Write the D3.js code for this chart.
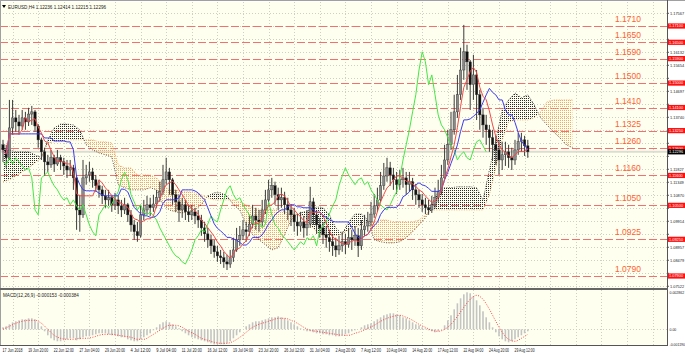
<!DOCTYPE html>
<html>
<head>
<meta charset="utf-8">
<script src="https://cdn.jsdelivr.net/npm/d3@7"></script>
<style>
  body { margin: 0; background: #fff; }
  svg { display: block; }
  text { font-family: Arial, "Liberation Sans", sans-serif; }
</style>
</head>
<body>
<div id="chart"></div>
<script>
// EURUSD H4, each entry = 2 H4 bars
var openP = [1.1273,1.1254,1.1225,1.1335,1.1372,1.1357,1.1342,1.1372,1.1357,1.1386,
1.1394,1.1342,1.1291,1.1247,1.1210,1.1199,1.1225,1.1202,1.1225,1.1210,
1.1195,1.1180,1.1188,1.1151,1.1033,1.1015,1.1151,1.1162,1.1173,1.1144,
1.1122,1.1107,1.1085,1.1070,1.1078,1.1052,1.1070,1.1048,1.1033,1.1052,
1.1015,1.0978,1.0953,1.0938,1.1015,1.1033,1.1052,1.1041,1.1055,1.1078,
1.1100,1.1144,1.1173,1.1144,1.1089,1.1063,1.1033,1.1052,1.1026,1.1015,
1.1026,1.1011,1.0996,1.0967,1.0945,1.0923,1.0901,1.0879,1.0864,1.0857,
1.0842,1.0834,1.0857,1.0886,1.0923,1.0938,1.0960,1.0953,1.0981,1.1011,
1.0996,1.0989,1.1033,1.1070,1.1107,1.1122,1.1089,1.1070,1.1078,1.1052,
1.1033,1.1015,1.0989,1.0974,1.0989,1.0967,1.0981,1.1063,1.1015,1.0978,
1.0967,1.0942,1.0931,1.0916,1.0901,1.0886,1.0901,1.0916,1.0905,1.0931,
1.0923,1.0938,1.0901,1.0960,1.0974,1.0989,1.1018,1.1048,1.1070,1.1122,
1.1158,1.1188,1.1162,1.1144,1.1126,1.1144,1.1151,1.1126,1.1137,1.1107,
1.1089,1.1070,1.1052,1.1041,1.1033,1.1052,1.1078,1.1100,1.1151,1.1217,
1.1273,1.1328,1.1394,1.1457,1.1548,1.1615,1.1578,1.1494,1.1530,1.1457,
1.1383,1.1346,1.1328,1.1299,1.1273,1.1254,1.1217,1.1236,1.1247,1.1225,
1.1217,1.1254,1.1284,1.1291,1.1269];
var highP = [1.1291,1.1273,1.1438,1.1438,1.1401,1.1383,1.1401,1.1394,1.1409,1.1416,
1.1401,1.1349,1.1299,1.1262,1.1236,1.1254,1.1236,1.1254,1.1236,1.1225,
1.1217,1.1217,1.1199,1.1162,1.1089,1.1217,1.1199,1.1210,1.1188,1.1162,
1.1144,1.1122,1.1107,1.1107,1.1089,1.1096,1.1085,1.1070,1.1078,1.1059,
1.1033,1.0996,1.0989,1.1052,1.1070,1.1085,1.1078,1.1089,1.1107,1.1137,
1.1199,1.1225,1.1188,1.1151,1.1107,1.1089,1.1078,1.1070,1.1052,1.1052,
1.1041,1.1033,1.1015,1.0989,1.0967,1.0942,1.0923,1.0901,1.0886,1.0879,
1.0868,1.0886,1.0931,1.0967,1.0974,1.0996,1.0989,1.1015,1.1052,1.1041,
1.1033,1.1070,1.1107,1.1144,1.1151,1.1137,1.1115,1.1115,1.1100,1.1078,
1.1055,1.1041,1.1018,1.1026,1.1011,1.1033,1.1118,1.1078,1.1033,1.1004,
1.0989,1.0974,1.0960,1.0945,1.0931,1.0938,1.0953,1.0945,1.0967,1.0960,
1.0974,1.0967,1.0996,1.1015,1.1026,1.1063,1.1092,1.1115,1.1173,1.1206,
1.1225,1.1210,1.1188,1.1173,1.1180,1.1188,1.1173,1.1173,1.1151,1.1129,
1.1107,1.1092,1.1078,1.1070,1.1085,1.1115,1.1144,1.1199,1.1273,1.1328,
1.1394,1.1457,1.1530,1.1630,1.1714,1.1641,1.1585,1.1604,1.1548,1.1475,
1.1409,1.1383,1.1346,1.1328,1.1306,1.1291,1.1284,1.1284,1.1273,1.1262,
1.1291,1.1317,1.1317,1.1306,1.1291];
var lowP = [1.1210,1.1188,1.1217,1.1310,1.1321,1.1310,1.1328,1.1328,1.1342,1.1346,
1.1321,1.1262,1.1217,1.1158,1.1173,1.1188,1.1173,1.1195,1.1180,1.1162,
1.1151,1.1158,1.1107,1.0960,1.0953,1.1004,1.1126,1.1137,1.1115,1.1100,
1.1078,1.1055,1.1041,1.1048,1.1026,1.1033,1.1018,1.1007,1.1018,1.0989,
1.0953,1.0923,1.0916,1.0931,1.0996,1.1018,1.1011,1.1026,1.1041,1.1063,
1.1089,1.1126,1.1089,1.1052,1.1026,1.0989,1.1004,1.0996,1.0989,1.0996,
1.0981,1.0967,1.0938,1.0916,1.0894,1.0871,1.0857,1.0842,1.0834,1.0820,
1.0812,1.0820,1.0842,1.0879,1.0901,1.0923,1.0916,1.0938,1.0967,1.0960,
1.0953,1.0974,1.1018,1.1052,1.1078,1.1052,1.1033,1.1041,1.1018,1.0996,
1.0974,1.0953,1.0938,1.0953,1.0931,1.0938,1.0967,1.0978,1.0945,1.0931,
1.0908,1.0894,1.0879,1.0864,1.0860,1.0868,1.0879,1.0871,1.0894,1.0886,
1.0901,1.0860,1.0886,1.0938,1.0953,1.0974,1.1004,1.1026,1.1063,1.1107,
1.1137,1.1122,1.1107,1.1092,1.1107,1.1115,1.1089,1.1100,1.1070,1.1052,
1.1041,1.1026,1.1018,1.1015,1.1022,1.1041,1.1063,1.1089,1.1144,1.1199,
1.1254,1.1310,1.1372,1.1438,1.1512,1.1475,1.1401,1.1438,1.1364,1.1328,
1.1299,1.1273,1.1247,1.1217,1.1199,1.1162,1.1180,1.1195,1.1188,1.1180,
1.1199,1.1236,1.1247,1.1232,1.1225];
var closeP = [1.1254,1.1225,1.1335,1.1372,1.1357,1.1342,1.1372,1.1357,1.1386,1.1394,
1.1342,1.1291,1.1247,1.1210,1.1199,1.1225,1.1202,1.1225,1.1210,1.1195,
1.1180,1.1188,1.1151,1.1033,1.1015,1.1151,1.1162,1.1173,1.1144,1.1122,
1.1107,1.1085,1.1070,1.1078,1.1052,1.1070,1.1048,1.1033,1.1052,1.1015,
1.0978,1.0953,1.0938,1.1015,1.1033,1.1052,1.1041,1.1055,1.1078,1.1100,
1.1144,1.1173,1.1144,1.1089,1.1063,1.1033,1.1052,1.1026,1.1015,1.1026,
1.1011,1.0996,1.0967,1.0945,1.0923,1.0901,1.0879,1.0864,1.0857,1.0842,
1.0834,1.0857,1.0886,1.0923,1.0938,1.0960,1.0953,1.0981,1.1011,1.0996,
1.0989,1.1033,1.1070,1.1107,1.1122,1.1089,1.1070,1.1078,1.1052,1.1033,
1.1015,1.0989,1.0974,1.0989,1.0967,1.0981,1.1063,1.1015,1.0978,1.0967,
1.0942,1.0931,1.0916,1.0901,1.0886,1.0901,1.0916,1.0905,1.0931,1.0923,
1.0938,1.0901,1.0960,1.0974,1.0989,1.1018,1.1048,1.1070,1.1122,1.1158,
1.1188,1.1162,1.1144,1.1126,1.1144,1.1151,1.1126,1.1137,1.1107,1.1089,
1.1070,1.1052,1.1041,1.1033,1.1052,1.1078,1.1100,1.1151,1.1217,1.1273,
1.1328,1.1394,1.1457,1.1548,1.1615,1.1578,1.1494,1.1530,1.1457,1.1383,
1.1346,1.1328,1.1299,1.1273,1.1254,1.1217,1.1236,1.1247,1.1225,1.1217,
1.1254,1.1284,1.1291,1.1269,1.1247];

// Senkou spans (kumo), one value every 2 entries, already shifted forward
var spanA = [1.1262,1.1254,1.1247,1.1247,1.1247,1.1236,1.1225,1.1291,1.1335,1.1349,
1.1349,1.1346,1.1328,1.1273,1.1254,1.1243,1.1236,1.1228,1.1126,1.1115,
1.1107,1.1107,1.1107,1.1115,1.1107,1.1052,1.1033,1.1026,1.1022,1.1026,
1.1033,1.1052,1.1085,1.1096,1.1096,1.1085,1.1052,1.1033,1.0978,1.0942,
1.0923,1.0905,1.0886,1.0894,1.0942,1.0996,1.1018,1.1026,1.1033,1.1044,
1.1041,1.1015,1.0967,1.0945,1.0989,1.1018,1.1018,1.0996,1.0923,1.0916,
1.0912,1.0912,1.0916,1.0931,1.0953,1.0978,1.1004,1.1052,1.1100,1.1115,
1.1115,1.1118,1.1118,1.1118,1.1115,1.1070,1.1180,1.1291,1.1401,1.1438,
1.1464,1.1446,1.1457,1.1420,1.1372,1.1346,1.1321,1.1299,1.1273,1.1262];
var spanB = [1.1137,1.1144,1.1158,1.1173,1.1188,1.1206,1.1225,1.1280,1.1284,1.1284,
1.1291,1.1291,1.1291,1.1291,1.1291,1.1284,1.1284,1.1280,1.1199,1.1188,
1.1188,1.1162,1.1162,1.1162,1.1151,1.1126,1.1107,1.1107,1.1100,1.1100,
1.1096,1.1089,1.1078,1.1070,1.1070,1.1070,1.1070,1.1063,1.1052,1.1041,
1.1033,1.1033,1.1033,1.1033,1.1026,1.1018,1.1018,1.1011,1.0978,1.0953,
1.0938,1.0938,1.0938,1.0945,1.0960,1.0970,1.0978,1.0989,1.0989,1.0996,
1.0996,1.0989,1.0989,1.0989,1.0989,1.0996,1.1015,1.1033,1.1033,1.1033,
1.1033,1.1033,1.1033,1.1033,1.1033,1.1033,1.1089,1.1188,1.1291,1.1357,
1.1364,1.1364,1.1364,1.1372,1.1394,1.1431,1.1438,1.1438,1.1438,1.1438];

// MACD(12,26,9): main per entry, signal every 2 entries
var macdMain = [0.000153,0.000230,0.000384,0.000537,0.000614,0.000690,0.000767,0.000767,0.000844,0.000844,
0.000767,0.000537,0.000230,-0.000153,-0.000460,-0.000690,-0.000844,-0.000920,-0.000920,-0.000844,
-0.000767,-0.000690,-0.000690,-0.000844,-0.000767,-0.000614,-0.000537,-0.000537,-0.000460,-0.000384,
-0.000307,-0.000307,-0.000307,-0.000384,-0.000460,-0.000460,-0.000537,-0.000614,-0.000614,-0.000767,
-0.000844,-0.000920,-0.000920,-0.000767,-0.000614,-0.000460,-0.000307,-0.000077,0.000153,0.000384,
0.000537,0.000614,0.000537,0.000384,0.000230,0.000077,-0.000153,-0.000307,-0.000460,-0.000614,
-0.000690,-0.000767,-0.000844,-0.000920,-0.000997,-0.001074,-0.001151,-0.001151,-0.001151,-0.001151,
-0.001074,-0.000920,-0.000690,-0.000460,-0.000230,0.000000,0.000230,0.000384,0.000537,0.000614,
0.000614,0.000690,0.000767,0.000844,0.000920,0.000920,0.000997,0.000920,0.000844,0.000690,
0.000537,0.000384,0.000230,0.000077,-0.000077,-0.000153,-0.000153,-0.000230,-0.000307,-0.000307,
-0.000384,-0.000384,-0.000460,-0.000460,-0.000537,-0.000537,-0.000460,-0.000384,-0.000307,-0.000153,
-0.000077,0.000000,0.000153,0.000307,0.000384,0.000460,0.000614,0.000767,0.000920,0.001074,
0.001151,0.001227,0.001227,0.001151,0.001074,0.000920,0.000844,0.000690,0.000537,0.000384,
0.000307,0.000153,0.000077,-0.000077,-0.000153,-0.000230,-0.000153,0.000000,0.000307,0.000690,
0.001074,0.001534,0.001994,0.002378,0.002685,0.002838,0.002761,0.002531,0.002224,0.001841,
0.001381,0.000920,0.000537,0.000153,-0.000230,-0.000537,-0.000767,-0.000920,-0.000997,-0.000920,
-0.000767,-0.000614,-0.000460,-0.000307,-0.000153];
var macdSignal = [0,0.000230,0.000460,0.000614,0.000690,0.000690,0.000460,0,-0.000460,-0.000690,
-0.000767,-0.000767,-0.000690,-0.000690,-0.000614,-0.000460,-0.000384,-0.000384,-0.000460,-0.000537,
-0.000614,-0.000767,-0.000767,-0.000537,-0.000230,0.000077,0.000307,0.000307,0.000153,-0.000153,
-0.000384,-0.000690,-0.000844,-0.000997,-0.001074,-0.001074,-0.000920,-0.000614,-0.000230,0.000153,
0.000384,0.000537,0.000690,0.000844,0.000844,0.000690,0.000460,0.000153,-0.000077,-0.000153,
-0.000230,-0.000307,-0.000384,-0.000460,-0.000460,-0.000307,-0.000153,0.000077,0.000307,0.000614,
0.000844,0.000997,0.001074,0.000920,0.000690,0.000384,0.000153,-0.000077,-0.000153,0,
0.000384,0.000997,0.001687,0.002301,0.002608,0.002301,0.001534,0.000614,-0.000230,-0.000767,
-0.000920,-0.000690,-0.000384];

// horizontal levels drawn on the chart
var levels = [1.1710, 1.1650, 1.1590, 1.1500, 1.1410, 1.1325, 1.1260, 1.1160, 1.1050, 1.0925, 1.0790];

var priceTicks = [1.17567,1.17089,1.16610,1.16132,1.15654,1.15175,1.14697,1.14219,1.13740,1.13262,1.12784,
  1.12305,1.11827,1.11349,1.10870,1.10392,1.09914,1.09435,1.08957,1.08479,1.08000,1.07522];
var timeLabels = ["17 Jun 2018","19 Jun 20:00","22 Jun 12:00","27 Jun 04:00","29 Jun 20:00","4 Jul 12:00",
  "9 Jul 04:00","11 Jul 20:00","16 Jul 12:00","19 Jul 04:00","23 Jul 20:00","26 Jul 12:00","31 Jul 04:00",
  "2 Aug 20:00","7 Aug 12:00","10 Aug 04:00","14 Aug 20:00","17 Aug 12:00","22 Aug 04:00","24 Aug 20:00","29 Aug 12:00"];
var macdTicks = [0.002862, 0, -0.001190];
var header = "EURUSD,H4  1.12236 1.12414 1.12215 1.12296";
var lastLabel = "1.12296";

var width = 685, height = 354;
var plotR = 667, mainT = 2, mainB = 288, macdT = 290, macdB = 345;

var svg = d3.select("#chart").append("svg")
    .attr("width", width)
    .attr("height", height);

svg.append("rect").attr("width", width).attr("height", height).attr("fill", "#ffffff");
svg.append("rect").attr("x", 0).attr("y", mainT).attr("width", plotR).attr("height", mainB - mainT).attr("fill", "#fffff0");
svg.append("rect").attr("x", 0).attr("y", macdT).attr("width", plotR).attr("height", macdB - macdT).attr("fill", "#fffff0");

var x = d3.scaleLinear().domain([0, 164]).range([3, 527.8]);
var y = d3.scaleLinear().domain([1.1710, 1.0790]).range([26, 276]);
var ym = d3.scaleLinear().domain([0, 0.002862]).range([329.3, 292]);

var defs = svg.append("defs");
defs.append("clipPath").attr("id", "clipMain")
  .append("rect").attr("x", 0).attr("y", mainT).attr("width", plotR).attr("height", mainB - mainT);
defs.append("clipPath").attr("id", "clipMacd")
  .append("rect").attr("x", 0).attr("y", macdT).attr("width", plotR).attr("height", macdB - macdT);

var hb = defs.append("pattern").attr("id", "hatchBlack").attr("width", 2).attr("height", 2)
  .attr("patternUnits", "userSpaceOnUse");
hb.append("rect").attr("width", 1).attr("height", 1).attr("fill", "#2a2a2a");
var ho = defs.append("pattern").attr("id", "hatchOrange").attr("width", 2).attr("height", 2)
  .attr("patternUnits", "userSpaceOnUse");
ho.append("rect").attr("width", 1).attr("height", 1).attr("fill", "#f5a85e");

// grid
var grid = svg.append("g");
grid.selectAll(".hg").data(priceTicks).enter().append("line")
  .attr("x1", 0).attr("x2", plotR)
  .attr("y1", function(d) { return Math.round(y(d)) + 0.5; })
  .attr("y2", function(d) { return Math.round(y(d)) + 0.5; })
  .attr("stroke", "#cfcfc4").attr("stroke-dasharray", "1,2");
var vgrid = d3.range(0, 26);
grid.selectAll(".vg").data(vgrid).enter().append("line")
  .attr("x1", function(j) { return Math.round(x(3 + 8 * j)) + 0.5; })
  .attr("x2", function(j) { return Math.round(x(3 + 8 * j)) + 0.5; })
  .attr("y1", mainT).attr("y2", mainB)
  .attr("stroke", "#cfcfc4").attr("stroke-dasharray", "1,2");
grid.selectAll(".vgm").data(vgrid).enter().append("line")
  .attr("x1", function(j) { return Math.round(x(3 + 8 * j)) + 0.5; })
  .attr("x2", function(j) { return Math.round(x(3 + 8 * j)) + 0.5; })
  .attr("y1", macdT).attr("y2", macdB)
  .attr("stroke", "#cfcfc4").attr("stroke-dasharray", "1,2");
grid.append("line").attr("x1", 0).attr("x2", plotR)
  .attr("y1", Math.round(ym(0)) + 0.5).attr("y2", Math.round(ym(0)) + 0.5)
  .attr("stroke", "#cfcfc4").attr("stroke-dasharray", "1,2");

var main = svg.append("g").attr("clip-path", "url(#clipMain)");

// level lines
main.selectAll(".lvl").data(levels).enter().append("line")
  .attr("x1", 0).attr("x2", plotR)
  .attr("y1", function(d) { return Math.round(y(d)) + 0.5; })
  .attr("y2", function(d) { return Math.round(y(d)) + 0.5; })
  .attr("stroke", "#f47070").attr("stroke-width", 1.1)
  .attr("stroke-dasharray", "8,3");

// bid line
main.append("line").attr("x1", 0).attr("x2", plotR)
  .attr("y1", y(closeP[closeP.length - 1])).attr("y2", y(closeP[closeP.length - 1]))
  .attr("stroke", "#dcdcd0").attr("stroke-width", 2);

// kumo
var areaDown = d3.area().x(function(d, k) { return x(2 * k); }).y0(mainB).y1(function(d) { return y(d); });
var areaUp = d3.area().x(function(d, k) { return x(2 * k); }).y0(mainT).y1(function(d) { return y(d); });
defs.append("clipPath").attr("id", "aboveA").append("path").attr("d", areaUp(spanA));
defs.append("clipPath").attr("id", "aboveB").append("path").attr("d", areaUp(spanB));
main.append("g").attr("clip-path", "url(#aboveA)")
  .append("path").attr("d", areaDown(spanB)).attr("fill", "url(#hatchOrange)");
main.append("g").attr("clip-path", "url(#aboveB)")
  .append("path").attr("d", areaDown(spanA)).attr("fill", "url(#hatchBlack)");
var spanLine = d3.line().x(function(d, k) { return x(2 * k); }).y(function(d) { return y(d); });
main.append("path").attr("d", spanLine(spanA)).attr("fill", "none")
  .attr("stroke", "#333").attr("stroke-width", 0.8).attr("stroke-dasharray", "1,1.5");
main.append("path").attr("d", spanLine(spanB)).attr("fill", "none")
  .attr("stroke", "#f4a050").attr("stroke-width", 0.8).attr("stroke-dasharray", "1,1.5");

// candles
var idx = d3.range(closeP.length);
main.selectAll(".wick").data(idx).enter().append("line")
  .attr("x1", function(i) { return x(i); }).attr("x2", function(i) { return x(i); })
  .attr("y1", function(i) { return y(highP[i]); })
  .attr("y2", function(i) { return y(lowP[i]); })
  .attr("stroke", "#3a3a3a").attr("stroke-width", 1);
main.selectAll(".body").data(idx).enter().append("rect")
  .attr("x", function(i) { return x(i) - 1.2; })
  .attr("width", 2.4)
  .attr("y", function(i) { return y(Math.max(openP[i], closeP[i])); })
  .attr("height", function(i) { return Math.max(1, Math.abs(y(openP[i]) - y(closeP[i]))); })
  .attr("fill", function(i) { return closeP[i] >= openP[i] ? "#8a8a8a" : "#111"; })
  .attr("stroke", "#333").attr("stroke-width", 0.4);

// ichimoku lines computed from the candles
function midRange(i, n) {
  var s = Math.max(0, i - n + 1);
  return (d3.max(highP.slice(s, i + 1)) + d3.min(lowP.slice(s, i + 1))) / 2;
}
var tenkan = idx.map(function(i) { return midRange(i, 5); });
var kijun = idx.map(function(i) { return midRange(i, 13); });
var lineI = d3.line().x(function(d, i) { return x(i); }).y(function(d) { return y(d); });
var chikou = closeP.slice(13);
main.append("path").attr("d", lineI(chikou)).attr("fill", "none").attr("stroke", "#44e844").attr("stroke-width", 1);
main.append("path").attr("d", lineI(kijun)).attr("fill", "none").attr("stroke", "#3c3cf0").attr("stroke-width", 1);
main.append("path").attr("d", lineI(tenkan)).attr("fill", "none").attr("stroke", "#f24a4a").attr("stroke-width", 1);

// level captions
svg.selectAll(".lvlText").data(levels).enter().append("text")
  .attr("x", 628).attr("y", function(d) { return y(d) - 4; })
  .attr("text-anchor", "middle")
  .attr("font-size", 8.5).attr("fill", "#ff6030")
  .text(function(d) { return d.toFixed(4); });

// MACD pane
var macd = svg.append("g").attr("clip-path", "url(#clipMacd)");
macd.selectAll(".hist").data(macdMain).enter().append("rect")
  .attr("x", function(d, i) { return x(i) - 0.8; })
  .attr("width", 1.6)
  .attr("y", function(d) { return Math.min(ym(d), ym(0)); })
  .attr("height", function(d) { return Math.abs(ym(d) - ym(0)); })
  .attr("fill", "#c4c4c4");
var sigLine = d3.line().curve(d3.curveMonotoneX)
  .x(function(d, k) { return x(2 * k); }).y(function(d) { return ym(d); });
macd.append("path").attr("d", sigLine(macdSignal)).attr("fill", "none")
  .attr("stroke", "#f44").attr("stroke-width", 1).attr("stroke-dasharray", "1,1.5");

// frames
svg.append("line").attr("x1", 0).attr("x2", width).attr("y1", 0.5).attr("y2", 0.5).attr("stroke", "#a0a0a0");
svg.append("line").attr("x1", 0.5).attr("x2", 0.5).attr("y1", 0).attr("y2", macdB).attr("stroke", "#a0a0a0");
svg.append("line").attr("x1", plotR + 0.5).attr("x2", plotR + 0.5).attr("y1", 0).attr("y2", macdB + 1).attr("stroke", "#555");
svg.append("rect").attr("x", 0).attr("y", mainB).attr("width", plotR + 1).attr("height", 2).attr("fill", "#666");
svg.append("line").attr("x1", 0).attr("x2", plotR + 1).attr("y1", macdB + 0.5).attr("y2", macdB + 0.5).attr("stroke", "#555");

// price axis: tick labels hidden where a tag sits on top of them
var last = closeP[closeP.length - 1];
var tagYs = levels.map(function(d) { return y(d); }).concat([y(last)]);
var shownTicks = priceTicks.filter(function(d) {
  return tagYs.every(function(t) { return Math.abs(t - y(d)) > 5.5; });
});
var ax = svg.append("g").attr("font-size", 3.9).attr("fill", "#222");
ax.selectAll(".pt").data(shownTicks).enter().append("text")
  .attr("x", 670).attr("y", function(d) { return y(d) + 1.4; })
  .text(function(d) { return d.toFixed(5); });
ax.selectAll(".tk").data(priceTicks).enter().append("line")
  .attr("x1", plotR).attr("x2", plotR + 2)
  .attr("y1", function(d) { return y(d); }).attr("y2", function(d) { return y(d); })
  .attr("stroke", "#555");
var tags = svg.append("g");
tags.selectAll(".tag").data(levels).enter().append("rect")
  .attr("x", plotR + 1).attr("width", 17)
  .attr("y", function(d) { return y(d) - 2.6; }).attr("height", 5.2)
  .attr("fill", "#ff1010");
tags.selectAll(".tagT").data(levels).enter().append("text")
  .attr("x", plotR + 2).attr("y", function(d) { return y(d) + 1.4; })
  .attr("font-size", 3.9).attr("fill", "#fff")
  .text(function(d) { return d.toFixed(5); });
tags.append("rect").attr("x", plotR + 1).attr("width", 17)
  .attr("y", y(last) - 2.6).attr("height", 5.2).attr("fill", "#000");
tags.append("text").attr("x", plotR + 2).attr("y", y(last) + 1.4)
  .attr("font-size", 3.9).attr("fill", "#fff")
  .text(lastLabel);

// MACD axis
ax.selectAll(".mt").data(macdTicks).enter().append("text")
  .attr("x", 669.5).attr("y", function(d) { return Math.min(Math.max(ym(d) + 1.4, 294), 345.5); })
  .attr("font-size", 3.5)
  .text(function(d) { return d === 0 ? "0.00" : d.toFixed(6); });

// time axis
svg.append("g").attr("font-size", 4.6).attr("fill", "#222")
  .selectAll("text").data(timeLabels).enter().append("text")
  .attr("x", function(d, j) { return x(3 + 8 * j); })
  .attr("y", 352)
  .attr("text-anchor", "middle")
  .attr("textLength", 20).attr("lengthAdjust", "spacingAndGlyphs")
  .text(function(d) { return d; });

// titles
svg.append("path").attr("d", "M2,5 L6,5 L4,8 Z").attr("fill", "#000");
svg.append("text").attr("x", 8).attr("y", 8.5).attr("font-size", 4.6).attr("fill", "#222").text(header);
svg.append("text").attr("x", 3).attr("y", 296.5).attr("font-size", 4.6).attr("fill", "#222")
  .text("MACD(12,26,9) " + macdMain[macdMain.length - 1].toFixed(6) + " " + macdSignal[macdSignal.length - 1].toFixed(6));
</script>
</body>
</html>
